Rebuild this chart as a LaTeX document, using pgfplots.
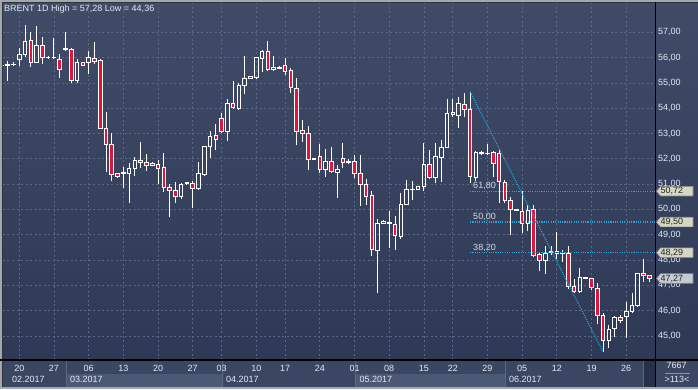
\documentclass[border=0pt]{standalone}
\usepackage{pgfplots}
\pgfplotsset{compat=1.18}
\usepackage{pgfplotstable}
\usetikzlibrary{backgrounds}
\usepackage{fontspec}
\setmainfont{Liberation Sans}
\definecolor{bgtop}{HTML}{3F4B67}
\definecolor{bgbot}{HTML}{2D3955}
\definecolor{gridc}{HTML}{5A6884}
\definecolor{candlered}{HTML}{E3143B}
\definecolor{fibc}{HTML}{22A6E0}
\definecolor{lbl}{HTML}{E4EAF4}
\definecolor{stripdark}{HTML}{3B4762}
\definecolor{striplight}{HTML}{4B5975}
\definecolor{framegray}{HTML}{A0A8B4}
\definecolor{boxbeige}{HTML}{D6D6C4}
\definecolor{boxgray}{HTML}{C6CBD2}
\definecolor{darkbox}{HTML}{27324A}
\definecolor{sepgray}{HTML}{8A93A3}
\newcommand\f{\fontsize{9}{10.8}\selectfont}

% BRENT daily candles: index, open, high, low, close
\pgfplotstableread{
i o h l c
0 55.70 55.75 55.65 55.70
1 55.72 55.87 55.08 55.70
2 55.72 55.84 55.68 55.74
3 55.93 56.37 55.68 56.14
4 56.13 57.28 56.04 56.63
5 56.67 57.00 55.64 55.81
6 55.81 57.25 55.77 56.46
7 56.46 56.80 55.74 56.01
8 56.00 56.05 55.97 56.02
9 56.00 56.76 55.93 56.01
10 55.93 56.14 55.20 55.54
11 56.32 57.02 56.30 56.36
12 56.33 56.39 55.00 55.09
13 55.09 55.93 55.00 55.81
14 55.79 55.82 55.68 55.70
15 55.81 56.26 55.35 56.01
16 55.96 56.60 55.75 55.85
17 55.89 55.95 53.18 53.20
18 53.20 53.85 51.49 52.57
19 52.57 53.00 51.13 51.39
20 51.40 51.45 51.28 51.30
21 51.42 51.66 50.86 51.45
22 51.43 51.85 50.27 51.62
23 51.62 52.06 51.33 51.94
24 51.94 52.66 51.62 51.85
25 51.85 52.20 51.53 51.73
26 51.74 51.86 51.70 51.82
27 51.78 51.95 51.00 51.61
28 51.66 52.23 50.70 50.86
29 50.86 51.00 49.71 50.75
30 50.75 51.08 50.27 50.52
31 50.52 51.06 50.40 50.99
32 51.02 51.08 51.00 51.05
33 51.03 51.12 50.04 50.83
34 50.82 51.87 50.78 51.40
35 51.39 52.50 51.33 52.47
36 52.47 53.09 52.02 52.90
37 52.93 53.38 52.35 52.78
38 53.60 53.80 53.00 53.07
39 53.07 54.35 52.72 54.19
40 54.19 55.08 53.96 54.04
41 54.00 55.00 53.93 54.88
42 54.88 56.06 54.55 55.18
43 55.18 55.28 55.15 55.26
44 55.20 56.01 55.18 56.01
45 55.97 56.30 55.44 56.26
46 56.25 56.67 55.47 55.51
47 55.54 56.06 55.48 55.62
48 55.58 55.65 55.55 55.62
49 55.70 55.97 55.30 55.46
50 55.50 55.58 54.61 54.81
51 54.79 55.18 52.55 53.07
52 53.10 53.53 52.68 53.00
53 53.00 53.30 51.56 51.98
54 51.99 52.03 51.97 52.01
55 52.10 52.58 51.43 51.58
56 51.57 52.39 51.29 51.91
57 51.91 52.47 51.43 51.49
58 51.45 51.76 50.46 51.58
59 52.03 52.62 51.62 51.85
60 51.86 51.98 51.80 51.88
61 51.91 52.15 51.23 51.43
62 51.43 52.15 50.15 50.99
63 50.99 51.19 50.17 50.52
64 50.56 50.74 48.16 48.42
65 48.38 49.62 46.68 49.45
66 49.45 49.58 49.42 49.53
67 49.46 49.94 48.46 49.48
68 49.41 49.74 48.40 48.98
69 48.92 50.64 48.82 50.20
70 50.20 51.16 50.20 50.77
71 50.78 51.12 50.37 50.80
72 50.79 50.93 50.77 50.91
73 50.90 52.62 50.74 51.78
74 51.78 52.35 51.20 51.27
75 51.27 52.61 51.03 52.11
76 52.06 52.74 51.10 52.45
77 52.45 54.36 52.45 53.80
78 53.84 54.36 53.64 53.76
79 53.73 54.43 53.20 54.19
80 54.15 54.59 53.66 53.93
81 53.93 54.65 51.03 51.30
82 51.27 52.32 51.13 52.24
83 52.21 52.30 52.14 52.23
84 52.19 52.58 52.15 52.21
85 52.26 52.32 51.27 51.82
86 52.22 52.35 50.24 51.10
87 51.08 51.16 50.27 50.37
88 50.34 50.50 48.99 49.98
89 49.97 50.00 49.95 49.99
90 49.91 50.74 49.08 49.45
91 49.45 50.17 49.16 49.95
92 49.98 50.17 48.10 48.16
93 48.20 48.30 47.58 47.97
94 47.97 48.56 47.44 48.26
95 48.28 48.56 48.20 48.32
96 48.26 49.12 48.03 48.35
97 48.27 48.38 47.93 48.25
98 48.24 48.54 46.84 46.97
99 46.94 47.23 46.71 46.75
100 46.75 47.67 46.71 47.32
101 47.27 47.32 47.25 47.29
102 47.28 47.30 46.81 46.91
103 46.88 47.08 45.47 45.81
104 45.81 45.89 44.36 44.80
105 44.81 45.43 44.51 45.26
106 45.28 45.79 44.94 45.72
107 45.71 45.82 45.50 45.62
108 45.76 46.35 44.93 45.97
109 45.96 46.68 45.89 46.22
110 46.22 47.50 46.13 47.45
111 47.47 48.03 47.14 47.37
112 47.37 47.40 47.14 47.27
}\brent

\newcommand\pricebox[3]{%
  \filldraw[fill=#3, draw=#3!65!black, line width=0.6pt]
    ([xshift=1.5pt]#1) -- ++(4pt,4.8pt) -- ++(32.5pt,0pt) -- ++(0pt,-9.6pt) -- ++(-32.5pt,0pt) -- cycle;
  \node[anchor=west, inner sep=0pt, text=black!85, font=\f] at ([xshift=5.5pt]#1) {#2};}

\begin{document}
\begin{tikzpicture}
\begin{axis}[
  name=ax, scale only axis,
  width=652pt, height=357pt,
  xmin=0.18, xmax=112.98, ymin=44.047, ymax=58.158,
  axis line style={draw=none}, tick style={draw=none},
  xtick={3,9,15,21,27,33,38,44,49,55,61,67,73,78,84,90,96,102,108},
  xticklabels={20,27,06,13,20,27,03,10,17,24,01,08,15,22,29,05,12,19,26},
  ytick={45,46,...,57},
  yticklabel pos=right,
  grid=major,
  major grid style={gridc, dash pattern=on 2pt off 2.5pt, line width=0.75pt},
  tick label style={font=\f, text=lbl},
  xticklabel style={anchor=base, yshift=-11.7pt},
  yticklabel style={anchor=west, inner sep=0pt, xshift=3pt},
  /pgf/number format/assume math mode=true,
  /pgf/number format/fixed,
  /pgf/number format/fixed zerofill,
  /pgf/number format/precision=2,
  /pgf/number format/use comma,
]
\pgfplotstablegetrowsof{\brent}
\pgfmathtruncatemacro\N{\pgfplotsretval-1}
\foreach \k in {0,...,\N}{
  \pgfplotstablegetelem{\k}{o}\of\brent \let\O\pgfplotsretval
  \pgfplotstablegetelem{\k}{h}\of\brent \let\H\pgfplotsretval
  \pgfplotstablegetelem{\k}{l}\of\brent \let\L\pgfplotsretval
  \pgfplotstablegetelem{\k}{c}\of\brent \let\C\pgfplotsretval
  \pgfplotstablegetelem{\k}{i}\of\brent \let\I\pgfplotsretval
  \pgfmathsetmacro\B{min(\O,\C)}
  \pgfmathsetmacro\T{max(\O,\C)}
  \pgfmathsetmacro\XL{\I-0.31}
  \pgfmathsetmacro\XR{\I+0.31}
  \pgfmathtruncatemacro\isred{\C<\O ? 1 : 0}
  \ifnum\isred=1 \def\F{candlered}\else\def\F{none}\fi
  \edef\cmd{%
    \noexpand\addplot[white, line width=1pt, forget plot] coordinates {(\I,\L) (\I,\B)};
    \noexpand\addplot[white, line width=1pt, forget plot] coordinates {(\I,\T) (\I,\H)};
    \noexpand\addplot[draw=white, line width=1pt, fill=\F, forget plot]
      coordinates {(\XL,\B) (\XR,\B) (\XR,\T) (\XL,\T)} -- cycle;}
  \cmd
}
% Fibonacci retracement
\addplot[fibc, line width=1.1pt, dash pattern=on 1.1pt off 1.2pt] coordinates {(81,54.65) (104,44.36)};
\addplot[fibc, line width=1.1pt, dash pattern=on 1.1pt off 1.2pt] coordinates {(81,50.72) (112.98,50.72)};
\addplot[fibc, line width=1.1pt, dash pattern=on 1.1pt off 1.2pt] coordinates {(81,49.50) (112.98,49.50)};
\addplot[fibc, line width=1.1pt, dash pattern=on 1.1pt off 1.2pt] coordinates {(81,48.29) (112.98,48.29)};
\node[anchor=base west, inner sep=0pt, text=lbl!85!gray, font=\f, yshift=2.6pt] at (axis cs:81.5,50.72) {61,80};
\node[anchor=base west, inner sep=0pt, text=lbl!85!gray, font=\f, yshift=2.6pt] at (axis cs:81.5,49.50) {50,00};
\node[anchor=base west, inner sep=0pt, text=lbl!85!gray, font=\f, yshift=2.6pt] at (axis cs:81.5,48.29) {38,20};
\coordinate (b1) at (axis cs:112.98,50.72);
\coordinate (b2) at (axis cs:112.98,49.50);
\coordinate (b3) at (axis cs:112.98,48.29);
\coordinate (b4) at (axis cs:112.98,47.27);
\end{axis}

\pricebox{b1}{50,72}{boxbeige}
\pricebox{b2}{49,50}{boxbeige}
\pricebox{b3}{48,29}{boxbeige}
\pricebox{b4}{47,27}{boxgray}

\begin{scope}[shift={(ax.south west)}, xshift=-3pt, yshift=-29pt, x=1pt, y=1pt]
\begin{scope}[on background layer]
\fill[framegray] (0,0) rectangle (698,389);
\fill[stripdark] (2.5,2.3) rectangle (698,29);
\shade[top color=bgtop, bottom color=bgbot] (2.5,29) rectangle (698,386.5);
\draw[black!80, line width=0.8pt] (2.5,386.5) -- (698,386.5);
\draw[black!80, line width=0.8pt] (2.5,2.3) -- (2.5,386.5);
\fill[striplight] (66.7,2.3) rectangle (222.3,15);
\fill[striplight] (355,2.3) rectangle (505.7,15);
\foreach \xx in {66.7,222.3,355,505.7}{\draw[gridc, line width=0.8pt] (\xx,2.3) -- (\xx,29);}
\fill[darkbox] (643.3,2.3) rectangle (654.5,29);
\draw[gridc, line width=0.8pt] (643.3,2.3) -- (643.3,29);
\end{scope}
\draw[black, line width=1.4pt] (0,29) -- (698,29);
\draw[black, line width=1.2pt] (655.3,2.3) -- (655.3,386.5);

\node[anchor=base west, inner sep=0pt, text=lbl, font=\f] at (4,377.3) {BRENT 1D High = 57,28 Low = 44,36};

\foreach \xx/\mm in {12/02.2017,70/03.2017,226/04.2017,359.3/05.2017,509/06.2017}{
  \node[anchor=base west, inner sep=0pt, text=lbl, font=\f] at (\xx,6.3) {\mm};}
\node[anchor=base, inner sep=0pt, text=lbl, font=\f] at (676.5,20.3) {7667};
\draw[sepgray, line width=0.7pt] (665,15.7) -- (690,15.7);
\node[anchor=base, inner sep=0pt, text=lbl, font=\f] at (677,6.3) {>113<};

\pgfresetboundingbox
\useasboundingbox (0,0) rectangle (698,389);
\end{scope}
\end{tikzpicture}
\end{document}
